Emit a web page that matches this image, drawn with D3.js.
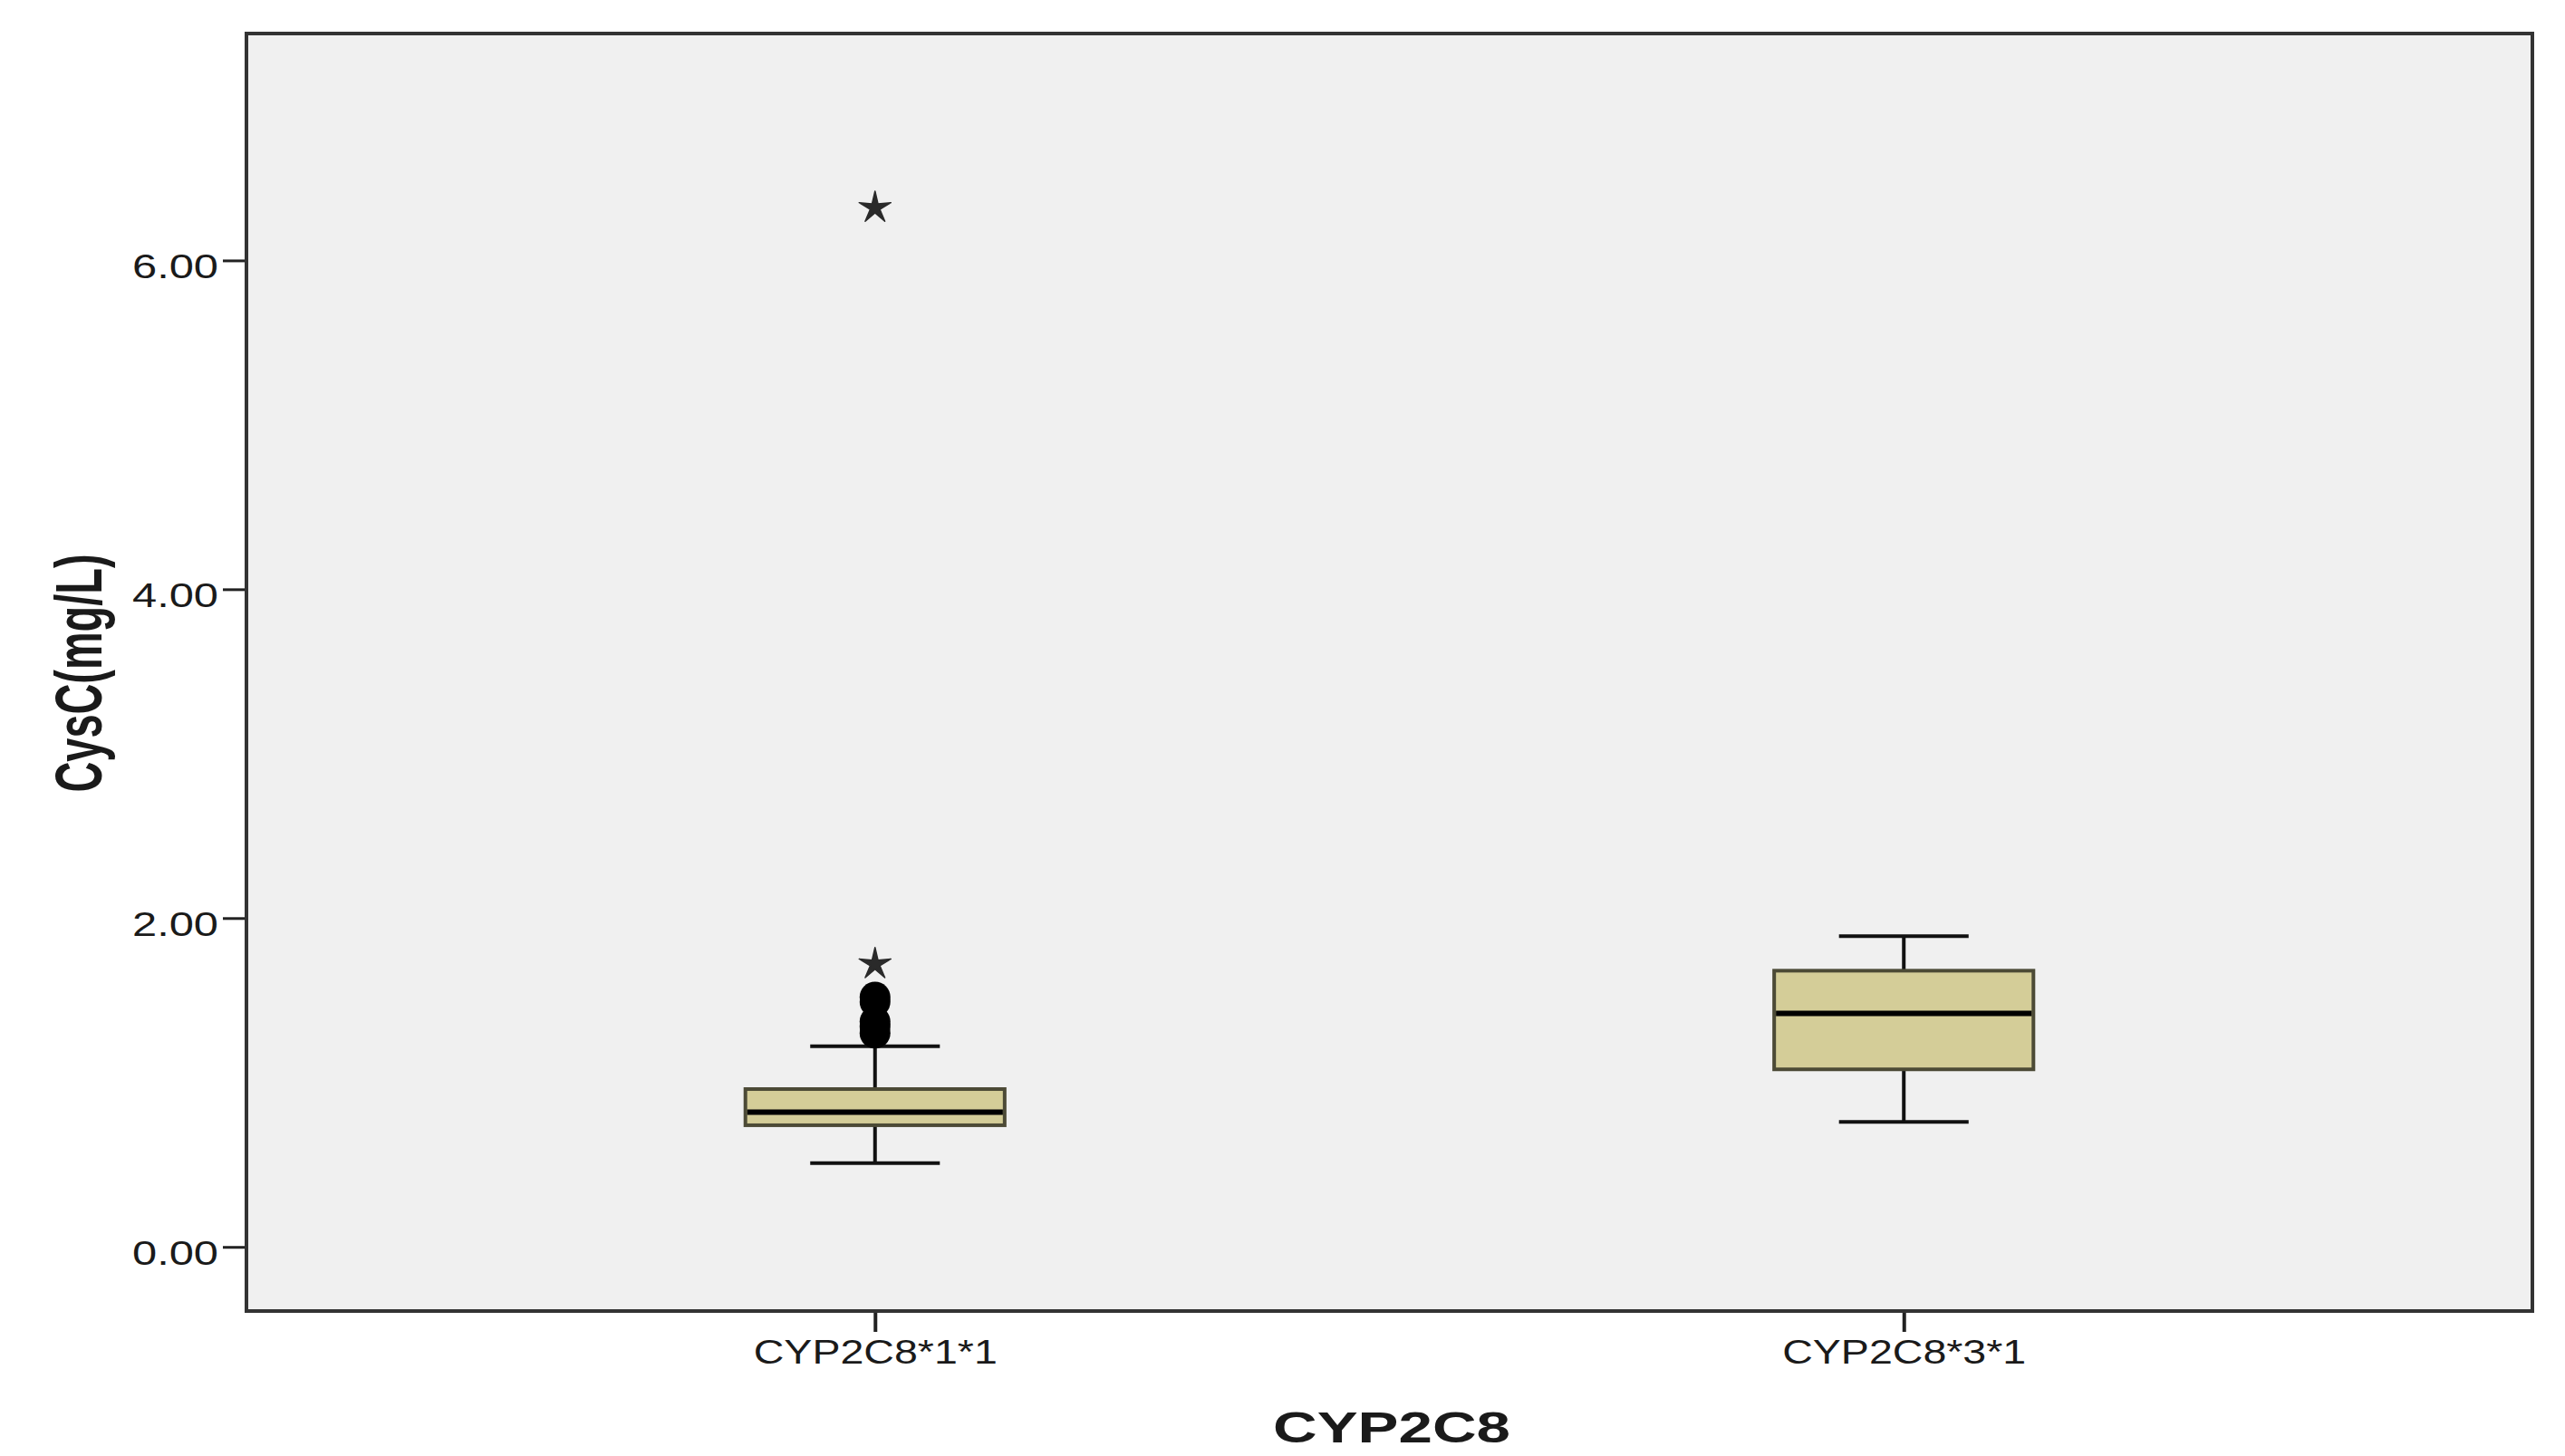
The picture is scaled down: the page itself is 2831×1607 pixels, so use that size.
<!DOCTYPE html>
<html lang="en">
  <head>
    <meta charset="utf-8" />
    <title>CysC by CYP2C8 box plot</title>
    <script type="text/javascript" src="https://d3js.org/d3.v7.min.js"></script>
    <style>
      body { margin: 0; background: #fff; }
      text { font-family: "Liberation Sans", Arial, sans-serif; fill: #1a1a1a; }
    </style>
  </head>
  <body>
    <div id="graph"></div>

    <script type="text/javascript">
      /***************
       * data
       ***************/

      const categories = ["CYP2C8*1*1", "CYP2C8*3*1"];
      const whiskerLow = [0.51, 0.76];
      const q1 = [0.74, 1.08];
      const median = [0.82, 1.42];
      const q3 = [0.96, 1.68];
      const whiskerHigh = [1.22, 1.89];
      // circles = outliers, stars = extreme values (SPSS style)
      const outliers = [[1.30, 1.34, 1.37, 1.49, 1.52], []];
      const extremes = [[1.72, 6.32], []];
      const yTicks = [0, 2, 4, 6];

      /***************
       * svg
       ***************/

      const width = 2831;
      const height = 1607;
      const margin = { top: 37, right: 36, bottom: 160, left: 272 };
      const plotW = width - margin.left - margin.right;
      const plotH = height - margin.top - margin.bottom;

      const svg = d3
        .select("div#graph")
        .append("svg")
        .attr("width", width)
        .attr("height", height);

      const g = svg
        .append("g")
        .attr("transform", "translate(" + margin.left + "," + margin.top + ")");

      /***************
       * scales
       ***************/

      const x = d3.scalePoint().domain(categories).range([0, plotW]).padding(0.611);
      const y = d3.scaleLinear().domain([-0.39, 7.38]).range([plotH, 0]);

      const boxW = x.step() * 0.252;
      const capW = boxW / 2;

      // plot background
      g.append("rect")
        .attr("width", plotW)
        .attr("height", plotH)
        .attr("fill", "#f0f0f0");

      /***************
       * boxes
       ***************/

      const boxes = g
        .selectAll("g.box")
        .data(categories)
        .enter()
        .append("g")
        .attr("class", "box")
        .attr("transform", (d) => "translate(" + x(d) + ",0)");

      // whisker stems
      boxes.append("line")
        .attr("y1", (d, i) => y(whiskerHigh[i]))
        .attr("y2", (d, i) => y(q3[i]))
        .attr("stroke", "#111").attr("stroke-width", 4);
      boxes.append("line")
        .attr("y1", (d, i) => y(q1[i]))
        .attr("y2", (d, i) => y(whiskerLow[i]))
        .attr("stroke", "#111").attr("stroke-width", 4);

      // caps
      [whiskerHigh, whiskerLow].forEach((arr) => {
        boxes.append("line")
          .attr("x1", -capW / 2).attr("x2", capW / 2)
          .attr("y1", (d, i) => y(arr[i]))
          .attr("y2", (d, i) => y(arr[i]))
          .attr("stroke", "#111").attr("stroke-width", 4);
      });

      boxes.append("rect")
        .attr("x", -boxW / 2)
        .attr("width", boxW)
        .attr("y", (d, i) => y(q3[i]))
        .attr("height", (d, i) => y(q1[i]) - y(q3[i]))
        .attr("fill", "#d4cd98")
        .attr("stroke", "#4c4a36")
        .attr("stroke-width", 4);

      boxes.append("line")
        .attr("x1", -boxW / 2 + 2).attr("x2", boxW / 2 - 2)
        .attr("y1", (d, i) => y(median[i]))
        .attr("y2", (d, i) => y(median[i]))
        .attr("stroke", "#000").attr("stroke-width", 6);

      // outliers
      boxes.selectAll("circle")
        .data((d, i) => outliers[i])
        .enter()
        .append("circle")
        .attr("cy", (v) => y(v))
        .attr("r", 17)
        .attr("fill", "#000");

      // thin-armed star like the SPSS extreme marker
      const thinStar = {
        draw(context, size) {
          const r = Math.sqrt(size);
          const ri = r * 0.3;
          for (let k = 0; k < 10; k++) {
            const a = (Math.PI / 5) * k - Math.PI / 2;
            const rr = k % 2 ? ri : r;
            if (k === 0) context.moveTo(rr * Math.cos(a), rr * Math.sin(a));
            else context.lineTo(rr * Math.cos(a), rr * Math.sin(a));
          }
          context.closePath();
        }
      };
      const star = d3.symbol().type(thinStar).size(340);
      boxes.selectAll("path.star")
        .data((d, i) => extremes[i])
        .enter()
        .append("path")
        .attr("class", "star")
        .attr("d", star)
        .attr("transform", (v) => "translate(0," + y(v) + ")")
        .attr("fill", "#2a2a2a")
        .attr("stroke", "#2a2a2a")
        .attr("stroke-width", 1.5)
        .attr("stroke-linejoin", "round");

      /***************
       * axes
       ***************/

      const yAxis = g.append("g")
        .call(d3.axisLeft(y).tickValues(yTicks).tickFormat(d3.format(".2f")).tickSize(26).tickPadding(5));
      yAxis.select(".domain").remove();
      yAxis.selectAll(".tick line").attr("stroke", "#222").attr("stroke-width", 3);
      yAxis.selectAll(".tick text")
        .attr("font-size", 37)
        .attr("dy", "0.52em")
        .attr("textLength", 95)
        .attr("lengthAdjust", "spacingAndGlyphs")
        .style("font-family", "Liberation Sans, Arial, sans-serif");

      const xAxis = g.append("g")
        .attr("transform", "translate(0," + plotH + ")")
        .call(d3.axisBottom(x).tickSize(23).tickPadding(9));
      xAxis.select(".domain").remove();
      xAxis.selectAll(".tick line").attr("stroke", "#222").attr("stroke-width", 4);
      xAxis.selectAll(".tick text")
        .attr("font-size", 37)
        .attr("textLength", 269)
        .attr("lengthAdjust", "spacingAndGlyphs")
        .style("font-family", "Liberation Sans, Arial, sans-serif");

      // frame
      g.append("rect")
        .attr("width", plotW)
        .attr("height", plotH)
        .attr("fill", "none")
        .attr("stroke", "#333")
        .attr("stroke-width", 4);

      /***************
       * titles
       ***************/

      svg.append("text")
        .attr("x", 1536)
        .attr("y", 1592)
        .attr("text-anchor", "middle")
        .attr("font-size", 49)
        .attr("font-weight", "bold")
        .attr("textLength", 262)
        .attr("lengthAdjust", "spacingAndGlyphs")
        .text("CYP2C8");

      svg.append("text")
        .attr("transform", "translate(112,743) rotate(-90)")
        .attr("text-anchor", "middle")
        .attr("font-size", 72)
        .attr("font-weight", "bold")
        .attr("textLength", 263)
        .attr("lengthAdjust", "spacingAndGlyphs")
        .text("CysC(mg/L)");
    </script>
  </body>
</html>
